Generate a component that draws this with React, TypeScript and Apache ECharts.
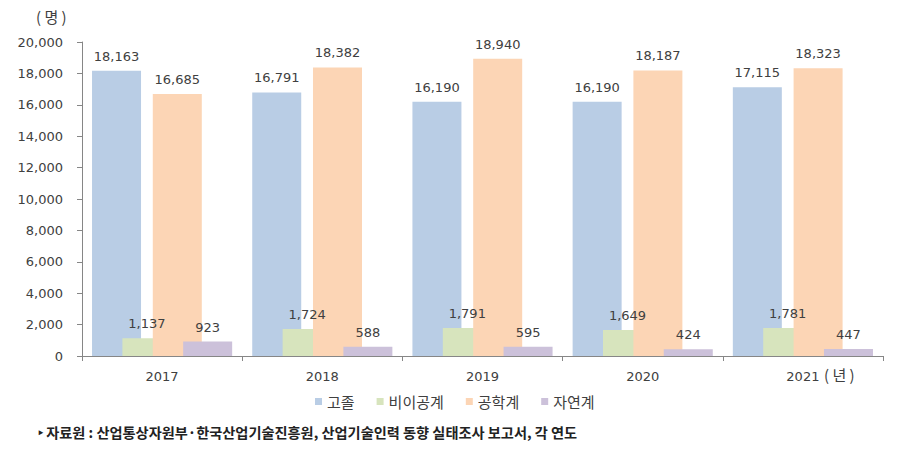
import React, { useEffect, useRef } from "react";
import * as echarts from "echarts";

const categories = ["2017", "2018", "2019", "2020", "2021"];
const seriesNames = ["고졸", "비이공계", "공학계", "자연계"];
const highSchool = [18163, 16791, 16190, 16190, 17115];
const nonEng = [1137, 1724, 1791, 1649, 1781];
const engineering = [16685, 18382, 18940, 18187, 18323];
const natural = [923, 588, 595, 424, 447];
const colors = ["#B9CDE5", "#D7E4BD", "#FCD5B5", "#CCC1DA"];
const yMax = 20000;
const yInterval = 2000;

const numFont = "DejaVu Sans";
const korFont = "Noto Sans CJK KR";

export default function App() {
  const ref = useRef<HTMLDivElement>(null);
  useEffect(() => {
    if (!ref.current) return;
    const chart = echarts.init(ref.current, undefined, { renderer: "svg" });
    const data = [highSchool, nonEng, engineering, natural];
    chart.setOption({
      animation: false,
      backgroundColor: "#ffffff",
      grid: { left: 82, right: 18, top: 42, bottom: 104, containLabel: false },
      legend: {
        bottom: 46,
        left: 310,
        itemWidth: 7,
        itemHeight: 7,
        itemGap: 22,
        icon: "rect",
        textStyle: { fontFamily: korFont, fontSize: 15, color: "#404040" },
        data: seriesNames,
      },
      xAxis: {
        type: "category",
        data: categories,
        boundaryGap: true,
        axisLine: { lineStyle: { color: "#868686", width: 1 } },
        axisTick: { show: true, length: 5, lineStyle: { color: "#868686" }, alignWithLabel: false },
        axisLabel: { fontFamily: numFont, fontSize: 13, color: "#404040", margin: 14 },
      },
      yAxis: {
        type: "value",
        min: 0,
        max: yMax,
        interval: yInterval,
        splitLine: { show: false },
        axisLine: { show: true, lineStyle: { color: "#868686" } },
        axisTick: { show: true, length: 5, lineStyle: { color: "#868686" } },
        axisLabel: {
          fontFamily: numFont,
          fontSize: 13,
          color: "#404040",
          margin: 19,
          formatter: (v: number) => v.toLocaleString("en-US"),
        },
      },
      series: seriesNames.map((name, i) => ({
        name,
        type: "bar",
        data: data[i],
        barWidth: 49,
        barGap: "-38%",
        barCategoryGap: "12%",
        itemStyle: { color: colors[i] },
        label: {
          show: true,
          position: "top",
          distance: 8,
          fontFamily: numFont,
          fontSize: 13,
          color: "#404040",
          formatter: (p: any) => Number(p.value).toLocaleString("en-US"),
        },
      })),
      graphic: [
        {
          type: "text",
          left: 36,
          top: 9,
          style: { text: "( 명 )", fontFamily: korFont, fontSize: 15, fill: "#404040" },
        },
        {
          type: "text",
          left: 824,
          top: 367,
          style: { text: "( 년 )", fontFamily: korFont, fontSize: 15, fill: "#404040" },
        },
        {
          type: "text",
          left: 38,
          top: 425,
          style: {
            text: "‣ 자료원 : 산업통상자원부·한국산업기술진흥원, 산업기술인력 동향 실태조사 보고서, 각 연도",
            fontFamily: korFont,
            fontSize: 14.2,
            fontWeight: "bold",
            fill: "#222222",
          },
        },
      ],
    });
    return () => chart.dispose();
  }, []);
  return <div ref={ref} style={{ width: 901, height: 460, position: "absolute", left: 0, top: 0 }} />;
}
